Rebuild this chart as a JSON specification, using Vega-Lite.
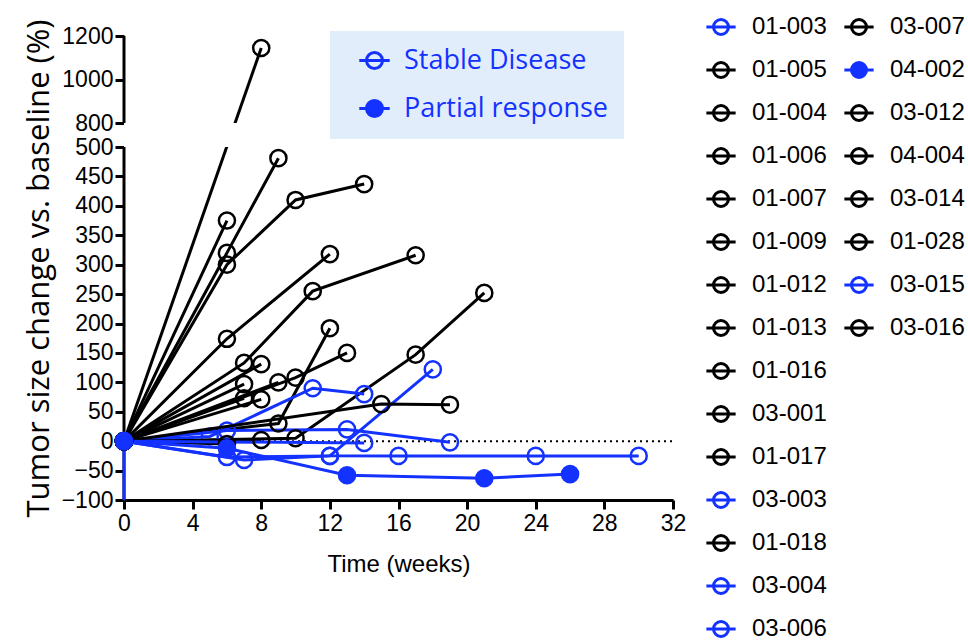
{
  "$schema": "https://vega.github.io/schema/vega-lite/v6.json",
  "width": 549,
  "height": 464,
  "autosize": {"type": "none"},
  "padding": {"left": 124, "top": 36, "right": 295, "bottom": 141},
  "background": "white",
  "config": {"view": {"stroke": null}},
  "data": {"name": "series"},
  "datasets": {
    "series": [
      {"id": "01-005", "week": 0, "value": 0, "status": "Progressive disease"},
      {"id": "01-005", "week": 8, "value": 1145, "status": "Progressive disease"},
      {"id": "01-004", "week": 0, "value": 0, "status": "Progressive disease"},
      {"id": "01-004", "week": 6, "value": 375, "status": "Progressive disease"},
      {"id": "01-006", "week": 0, "value": 0, "status": "Progressive disease"},
      {"id": "01-006", "week": 6, "value": 320, "status": "Progressive disease"},
      {"id": "01-006", "week": 9, "value": 481, "status": "Progressive disease"},
      {"id": "01-007", "week": 0, "value": 0, "status": "Progressive disease"},
      {"id": "01-007", "week": 6, "value": 300, "status": "Progressive disease"},
      {"id": "01-007", "week": 10, "value": 410, "status": "Progressive disease"},
      {"id": "01-007", "week": 14, "value": 437, "status": "Progressive disease"},
      {"id": "01-009", "week": 0, "value": 0, "status": "Progressive disease"},
      {"id": "01-009", "week": 6, "value": 174, "status": "Progressive disease"},
      {"id": "01-009", "week": 12, "value": 318, "status": "Progressive disease"},
      {"id": "01-012", "week": 0, "value": 0, "status": "Progressive disease"},
      {"id": "01-012", "week": 7, "value": 133, "status": "Progressive disease"},
      {"id": "01-012", "week": 11, "value": 255, "status": "Progressive disease"},
      {"id": "01-012", "week": 17, "value": 316, "status": "Progressive disease"},
      {"id": "01-013", "week": 0, "value": 0, "status": "Progressive disease"},
      {"id": "01-013", "week": 10, "value": 5, "status": "Progressive disease"},
      {"id": "01-013", "week": 17, "value": 147, "status": "Progressive disease"},
      {"id": "01-013", "week": 21, "value": 252, "status": "Progressive disease"},
      {"id": "01-016", "week": 0, "value": 0, "status": "Progressive disease"},
      {"id": "01-016", "week": 9, "value": 30, "status": "Progressive disease"},
      {"id": "01-016", "week": 12, "value": 192, "status": "Progressive disease"},
      {"id": "03-001", "week": 0, "value": 0, "status": "Progressive disease"},
      {"id": "03-001", "week": 10, "value": 108, "status": "Progressive disease"},
      {"id": "03-001", "week": 13, "value": 150, "status": "Progressive disease"},
      {"id": "01-017", "week": 0, "value": 0, "status": "Progressive disease"},
      {"id": "01-017", "week": 8, "value": 131, "status": "Progressive disease"},
      {"id": "01-018", "week": 0, "value": 0, "status": "Progressive disease"},
      {"id": "01-018", "week": 7, "value": 97, "status": "Progressive disease"},
      {"id": "03-007", "week": 0, "value": 0, "status": "Progressive disease"},
      {"id": "03-007", "week": 7, "value": 73, "status": "Progressive disease"},
      {"id": "03-012", "week": 0, "value": 0, "status": "Progressive disease"},
      {"id": "03-012", "week": 8, "value": 71, "status": "Progressive disease"},
      {"id": "04-004", "week": 0, "value": 0, "status": "Progressive disease"},
      {"id": "04-004", "week": 9, "value": 100, "status": "Progressive disease"},
      {"id": "03-014", "week": 0, "value": 0, "status": "Progressive disease"},
      {"id": "03-014", "week": 15, "value": 63, "status": "Progressive disease"},
      {"id": "03-014", "week": 19, "value": 62, "status": "Progressive disease"},
      {"id": "01-028", "week": 0, "value": 0, "status": "Progressive disease"},
      {"id": "01-028", "week": 8, "value": 2, "status": "Progressive disease"},
      {"id": "03-016", "week": 0, "value": 0, "status": "Progressive disease"},
      {"id": "03-016", "week": 6, "value": -5, "status": "Progressive disease"},
      {"id": "01-003", "week": 0, "value": 0, "status": "Stable Disease"},
      {"id": "01-003", "week": 5, "value": 8, "status": "Stable Disease"},
      {"id": "01-003", "week": 11, "value": 90, "status": "Stable Disease"},
      {"id": "01-003", "week": 14, "value": 80, "status": "Stable Disease"},
      {"id": "03-003", "week": 0, "value": 0, "status": "Stable Disease"},
      {"id": "03-003", "week": 6, "value": 18, "status": "Stable Disease"},
      {"id": "03-003", "week": 13, "value": 20, "status": "Stable Disease"},
      {"id": "03-003", "week": 19, "value": -2, "status": "Stable Disease"},
      {"id": "03-004", "week": 0, "value": 0, "status": "Stable Disease"},
      {"id": "03-004", "week": 6, "value": -27, "status": "Stable Disease"},
      {"id": "03-004", "week": 12, "value": -25, "status": "Stable Disease"},
      {"id": "03-004", "week": 16, "value": -25, "status": "Stable Disease"},
      {"id": "03-004", "week": 24, "value": -25, "status": "Stable Disease"},
      {"id": "03-004", "week": 30, "value": -25, "status": "Stable Disease"},
      {"id": "03-006", "week": 0, "value": 0, "status": "Stable Disease"},
      {"id": "03-006", "week": 7, "value": -32, "status": "Stable Disease"},
      {"id": "03-006", "week": 12, "value": -25, "status": "Stable Disease"},
      {"id": "03-006", "week": 18, "value": 122, "status": "Stable Disease"},
      {"id": "03-015", "week": 0, "value": -100, "status": "Stable Disease"},
      {"id": "03-015", "week": 0, "value": 0, "status": "Stable Disease"},
      {"id": "03-015", "week": 14, "value": -3, "status": "Stable Disease"},
      {"id": "04-002", "week": 0, "value": 0, "status": "Partial response"},
      {"id": "04-002", "week": 6, "value": -12, "status": "Partial response"},
      {"id": "04-002", "week": 13, "value": -58, "status": "Partial response"},
      {"id": "04-002", "week": 21, "value": -63, "status": "Partial response"},
      {"id": "04-002", "week": 26, "value": -56, "status": "Partial response"}
    ],
    "baseline": [{"week": 0, "week2": 32, "value": 0}],
    "gap": [{"week": 0, "week2": 32, "value": 500, "value2": 800}],
    "axisSegments": [
      {"week": 0, "value": -100, "value2": 500},
      {"week": 0, "value": 800, "value2": 1200}
    ]
  },
  "encoding": {
    "x": {
      "field": "week", "type": "quantitative",
      "scale": {"domain": [0, 32], "nice": false, "zero": false},
      "axis": {
        "values": [0, 4, 8, 12, 16, 20, 24, 28, 32],
        "title": "Time (weeks)", "titleFont": "Liberation Sans", "titleFontSize": 24,
        "titleFontWeight": "normal", "titleColor": "black", "titlePadding": 17,
        "labelFont": "Liberation Sans", "labelFontSize": 23, "labelColor": "black",
        "labelPadding": 3, "labelFlush": false,
        "domainColor": "black", "domainWidth": 3,
        "tickColor": "black", "tickWidth": 3, "tickSize": 9, "grid": false
      }
    },
    "y": {
      "field": "value", "type": "quantitative",
      "scale": {"domain": [-100, 500, 800, 1200], "range": [464, 111, 87, 0], "nice": false, "zero": false},
      "axis": {
        "values": [-100, -50, 0, 50, 100, 150, 200, 250, 300, 350, 400, 450, 500, 800, 1000, 1200],
        "format": "d",
        "title": "Tumor size change vs. baseline (%)", "titleFont": "Open Sans", "titleFontSize": 31,
        "titleFontWeight": "normal", "titleColor": "black", "titlePadding": 6,
        "labelFont": "Liberation Sans", "labelFontSize": 23, "labelColor": "black",
        "labelPadding": 2, "labelFlush": false, "labelOverlap": false,
        "domain": false, "tickColor": "black", "tickWidth": 3, "tickSize": 9, "grid": false
      }
    }
  },
  "layer": [
    {
      "data": {"name": "baseline"},
      "mark": {"type": "rule", "color": "black", "strokeWidth": 2, "strokeDash": [2, 4]},
      "encoding": {"x2": {"field": "week2"}}
    },
    {
      "data": {"name": "axisSegments"},
      "mark": {"type": "rule", "color": "black", "strokeWidth": 3},
      "encoding": {"y2": {"field": "value2"}}
    },
    {
      "transform": [{"filter": {"field": "id", "oneOf": ["01-003", "01-005", "01-004", "01-006", "01-007", "01-009", "01-012", "01-013", "01-016", "03-001", "01-017", "03-003", "01-018", "03-004", "03-006"]}}],
      "encoding": {
        "color": {
          "field": "id", "type": "nominal",
          "scale": {
            "domain": ["01-003", "01-005", "01-004", "01-006", "01-007", "01-009", "01-012", "01-013", "01-016", "03-001", "01-017", "03-003", "01-018", "03-004", "03-006"],
            "range": ["#1432ff", "#000000", "#000000", "#000000", "#000000", "#000000", "#000000", "#000000", "#000000", "#000000", "#000000", "#1432ff", "#000000", "#1432ff", "#1432ff"]
          },
          "legend": {
            "title": null, "orient": "none", "legendX": 585, "legendY": -21, "padding": 0,
            "symbolType": "M-1,0A1,1 0 1,1 1,0A1,1 0 1,1 -1,0M-1.95,0L1.95,0",
            "symbolSize": 225, "symbolStrokeWidth": 3, "symbolFillColor": "transparent",
            "labelFont": "Liberation Sans", "labelFontSize": 24, "labelColor": "black",
            "labelOffset": 19, "rowPadding": 15, "symbolLimit": 0, "labelLimit": 0
          }
        }
      },
      "layer": [
        {"mark": {"type": "line", "strokeWidth": 3}},
        {
          "transform": [{"filter": "datum.value > -100"}],
          "mark": {"type": "point", "filled": false, "size": 260, "strokeWidth": 2.5, "opacity": 1},
          "encoding": {
            "fill": {
              "field": "status", "type": "nominal",
              "scale": {"domain": ["Stable Disease", "Partial response", "Progressive disease"], "range": ["transparent", "#1432ff", "transparent"]},
              "legend": {
                "title": null, "orient": "none", "legendX": 206, "legendY": -5,
                "values": ["Stable Disease", "Partial response"],
                "fillColor": "#e2edfc", "padding": 16, "symbolOffset": 15,
                "symbolType": "M-1,0A1,1 0 1,1 1,0A1,1 0 1,1 -1,0M-1.9,0L1.9,0",
                "symbolSize": 256, "symbolStrokeColor": "#1432ff", "symbolStrokeWidth": 3,
                "labelFont": "Open Sans", "labelFontSize": 27, "labelColor": "#1432ff",
                "labelOffset": 16, "rowPadding": 19, "labelLimit": 0,
                "encode": {"symbols": {"update": {"stroke": {"value": "#1432ff"}, "strokeWidth": {"value": 3}}}}
              }
            }
          }
        }
      ]
    },
    {
      "transform": [{"filter": {"field": "id", "oneOf": ["03-007", "04-002", "03-012", "04-004", "03-014", "01-028", "03-015", "03-016"]}}],
      "encoding": {
        "color": {
          "field": "id", "type": "nominal",
          "scale": {
            "domain": ["03-007", "04-002", "03-012", "04-004", "03-014", "01-028", "03-015", "03-016"],
            "range": ["#000000", "#1432ff", "#000000", "#000000", "#000000", "#000000", "#1432ff", "#000000"]
          },
          "legend": {
            "title": null, "orient": "none", "legendX": 723, "legendY": -21, "padding": 0,
            "symbolType": "M-1,0A1,1 0 1,1 1,0A1,1 0 1,1 -1,0M-1.95,0L1.95,0",
            "symbolSize": 225, "symbolStrokeWidth": 3,
            "labelFont": "Liberation Sans", "labelFontSize": 24, "labelColor": "black",
            "labelOffset": 19, "rowPadding": 15, "symbolLimit": 0, "labelLimit": 0,
            "encode": {"symbols": {"update": {"fill": {"signal": "datum.value === '04-002' ? '#1432ff' : 'transparent'"}}}}
          }
        }
      },
      "layer": [
        {"mark": {"type": "line", "strokeWidth": 3}},
        {
          "transform": [{"filter": "datum.value > -100"}],
          "mark": {"type": "point", "filled": false, "size": 260, "strokeWidth": 2.5, "opacity": 1},
          "encoding": {
            "fill": {
              "field": "status", "type": "nominal",
              "scale": {"domain": ["Stable Disease", "Partial response", "Progressive disease"], "range": ["transparent", "#1432ff", "transparent"]}
            }
          }
        }
      ]
    },
    {
      "data": {"name": "gap"},
      "mark": {"type": "rect", "color": "white"},
      "encoding": {"x2": {"field": "week2"}, "y2": {"field": "value2"}}
    }
  ],
  "resolve": {"scale": {"color": "independent"}, "legend": {"color": "independent"}}
}
